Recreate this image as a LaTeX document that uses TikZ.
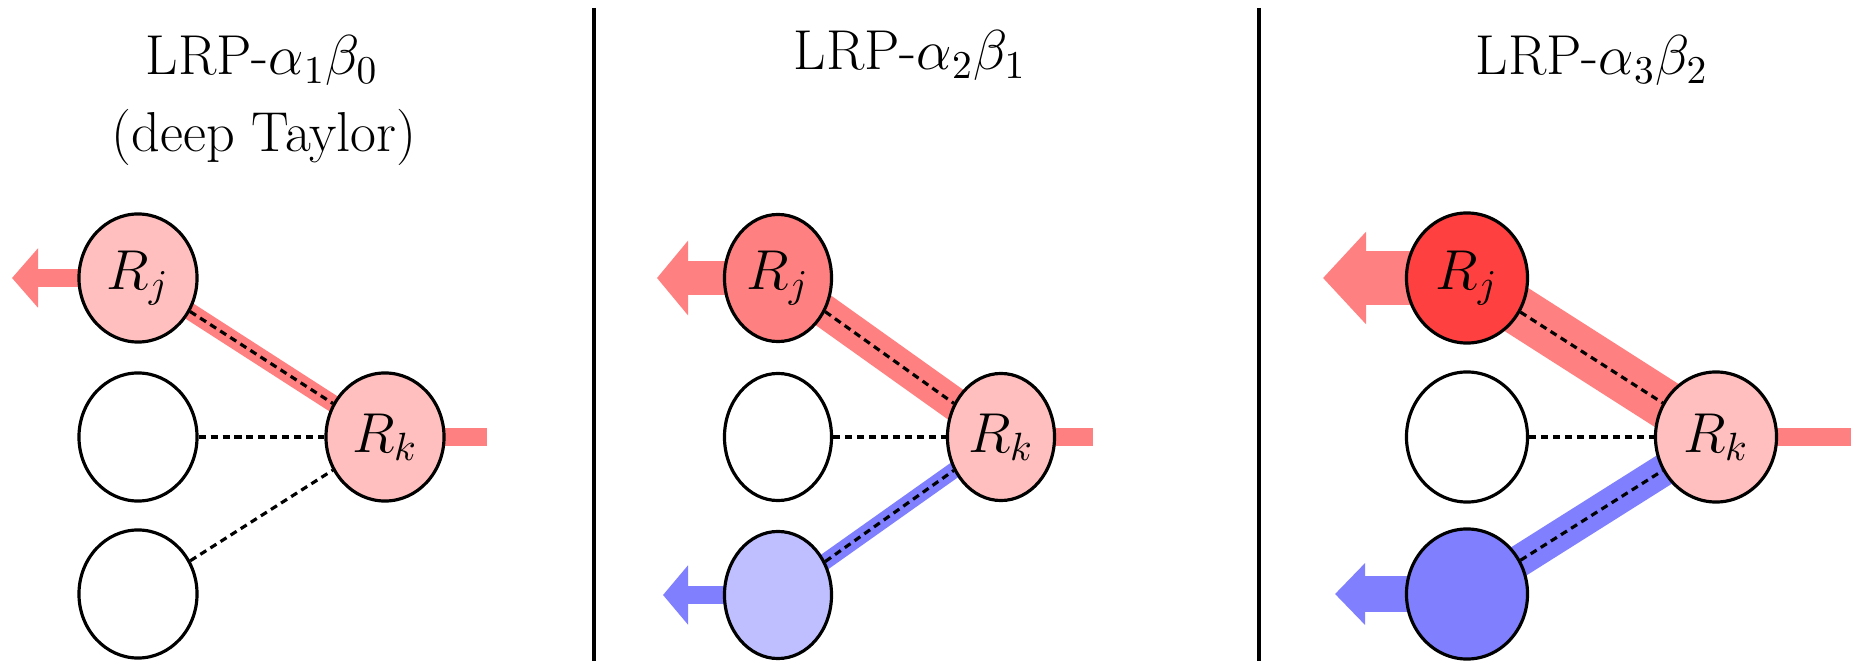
\documentclass[tikz,border=0pt]{standalone}
\usepackage{fix-cm}
\usetikzlibrary{arrows.meta,shapes.geometric,backgrounds}
\begin{document}
\begin{tikzpicture}[x=0.01cm, y=-0.01cm, font=\fontsize{16}{19}\selectfont,
  neuron/.style={draw, ellipse, line width=0.9pt, inner sep=0pt},
  link/.style={line width=0.9pt, dash pattern=on 2pt off 1.4pt}]
\useasboundingbox (0,0) rectangle (1851,661);

% Dividers
\draw[line width=0.9pt] (594,8) -- (594,661);
\draw[line width=0.9pt] (1259,8) -- (1259,661);

% Panel 1
\node[anchor=base] (t1) at (262,75) {LRP-$\alpha_1\beta_0$};
\node[anchor=base] (t1b) at (264,152) {(deep Taylor)};
\node[neuron, fill=red!25, minimum width=1.18cm, minimum height=1.28cm] (j1) at (138,278) {$R_j$};
\node[neuron, fill=white, minimum width=1.18cm, minimum height=1.28cm] (m1) at (138,437) {};
\node[neuron, fill=white, minimum width=1.18cm, minimum height=1.28cm] (b1) at (138,594) {};
\node[neuron, fill=red!25, minimum width=1.18cm, minimum height=1.28cm] (k1) at (385,437) {$R_k$};
\coordinate (a1) at (12,278);
\coordinate (e1) at (487,437);

% Panel 2
\node[anchor=base] (t2) at (910,70) {LRP-$\alpha_2\beta_1$};
\node[neuron, fill=red!50, minimum width=1.07cm, minimum height=1.27cm] (j2) at (778,278) {$R_j$};
\node[neuron, fill=white, minimum width=1.07cm, minimum height=1.27cm] (m2) at (778,437) {};
\node[neuron, fill=blue!25, minimum width=1.07cm, minimum height=1.27cm] (b2) at (778,595) {};
\node[neuron, fill=red!25, minimum width=1.07cm, minimum height=1.27cm] (k2) at (1001,437) {$R_k$};
\coordinate (a2) at (657,278);
\coordinate (c2) at (663,595);
\coordinate (e2) at (1093,437);

% Panel 3
\node[anchor=base] (t3) at (1592,75) {LRP-$\alpha_3\beta_2$};
\node[neuron, fill=red!75, minimum width=1.21cm, minimum height=1.30cm] (j3) at (1467,278) {$R_j$};
\node[neuron, fill=white, minimum width=1.21cm, minimum height=1.30cm] (m3) at (1467,437) {};
\node[neuron, fill=blue!50, minimum width=1.21cm, minimum height=1.30cm] (b3) at (1467,594) {};
\node[neuron, fill=red!25, minimum width=1.21cm, minimum height=1.30cm] (k3) at (1716,437) {$R_k$};
\coordinate (a3) at (1323,278);
\coordinate (c3) at (1335,594);
\coordinate (e3) at (1851,437);

% Relevance flows
\begin{scope}[on background layer]
\draw[red!50, line width=0.17cm] (j1.center) -- (k1.center);
\draw[red!50, line width=0.18cm] (k1.center) -- (e1);
\draw[red!50, line width=0.17cm, -{Triangle[length=0.26cm,width=0.58cm]}] (j1.center) -- (a1);

\draw[red!50, line width=0.33cm] (j2.center) -- (k2.center);
\draw[blue!50, line width=0.16cm] (b2.center) -- (k2.center);
\draw[red!50, line width=0.17cm] (k2.center) -- (e2);
\draw[red!50, line width=0.34cm, -{Triangle[length=0.31cm,width=0.73cm]}] (j2.center) -- (a2);
\draw[blue!50, line width=0.17cm, -{Triangle[length=0.25cm,width=0.58cm]}] (b2.center) -- (c2);

\draw[red!50, line width=0.49cm] (j3.center) -- (k3.center);
\draw[blue!50, line width=0.32cm] (b3.center) -- (k3.center);
\draw[red!50, line width=0.17cm] (k3.center) -- (e3);
\draw[red!50, line width=0.53cm, -{Triangle[length=0.43cm,width=0.90cm]}] (j3.center) -- (a3);
\draw[blue!50, line width=0.36cm, -{Triangle[length=0.30cm,width=0.60cm]}] (b3.center) -- (c3);
\end{scope}

% Connections
\draw[link] (j1) -- (k1);
\draw[link] (m1) -- (k1);
\draw[link] (b1) -- (k1);
\draw[link] (j2) -- (k2);
\draw[link] (m2) -- (k2);
\draw[link] (b2) -- (k2);
\draw[link] (j3) -- (k3);
\draw[link] (m3) -- (k3);
\draw[link] (b3) -- (k3);
\end{tikzpicture}
\end{document}
